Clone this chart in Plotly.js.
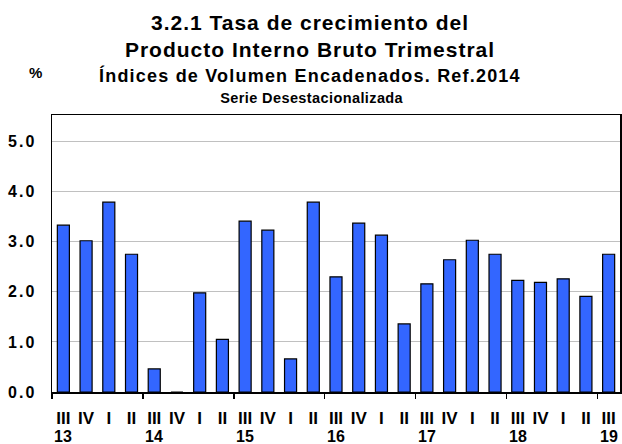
<!DOCTYPE html>
<html>
<head>
<meta charset="utf-8">
<script src="https://cdn.plot.ly/plotly-3.0.1.min.js"></script>
<style>
html, body { margin: 0; padding: 0; background: #fff; }
#chart { width: 622px; height: 444px; }
#chart .gtitle { letter-spacing: 1px; }
#chart .annotation-text.sub3 { letter-spacing: 1.2px; }
#chart .annotation-text.sub4 { letter-spacing: 0.4px; }
#chart .ytick text { letter-spacing: 2px; }
</style>
</head>
<body>
<div id="chart"></div>
<script>
// Quarters from 2013-III to 2019-III
const quarterLabels = ["III","IV","I","II","III","IV","I","II","III","IV","I","II","III","IV","I","II","III","IV","I","II","III","IV","I","II","III"];
const growthValues = [3.33, 3.02, 3.79, 2.75, 0.46, 0.0, 1.98, 1.05, 3.41, 3.23, 0.66, 3.79, 2.30, 3.37, 3.13, 1.36, 2.16, 2.64, 3.03, 2.75, 2.23, 2.19, 2.26, 1.91, 2.75];
const yearLabels = ["13","14","15","16","17","18","19"];
const yearPositions = [0, 4, 8, 12, 16, 20, 24];
const yTickValues = [0, 1, 2, 3, 4, 5];

const xIdx = quarterLabels.map((_, i) => i);
const FONT = "Arial, 'Liberation Sans', sans-serif";

const trace = {
  type: "bar",
  x: xIdx,
  y: growthValues,
  marker: { color: "#3366ff", line: { color: "#000000", width: 1.2 } },
  hoverinfo: "y"
};

const annotations = [
  { text: "<b>Índices de Volumen Encadenados. Ref.2014</b>", xref: "paper", yref: "paper",
    x: 0.4542, y: 1.144, xanchor: "center", yanchor: "middle", showarrow: false,
    font: { family: FONT, size: 18, color: "#000" } },
  { text: "<b>Serie Desestacionalizada</b>", xref: "paper", yref: "paper",
    x: 0.4577, y: 1.063, xanchor: "center", yanchor: "middle", showarrow: false,
    font: { family: FONT, size: 14.5, color: "#000" } },
  { text: "<b>%</b>", xref: "paper", yref: "paper",
    x: -0.0299, y: 1.155, xanchor: "center", yanchor: "middle", showarrow: false,
    font: { family: FONT, size: 15, color: "#000" } }
];
yearLabels.forEach((lab, i) => {
  annotations.push({ text: "<b>" + lab + "</b>", xref: "x", yref: "paper",
    x: yearPositions[i], y: -0.161, xanchor: "center", yanchor: "middle", showarrow: false,
    font: { family: FONT, size: 16, color: "#000" } });
});

const layout = {
  width: 622, height: 444,
  margin: { l: 52, r: 2, t: 115, b: 52, pad: 0 },
  paper_bgcolor: "#ffffff", plot_bgcolor: "#ffffff",
  showlegend: false,
  bargap: 0.47,
  font: { family: FONT, color: "#000" },
  title: {
    text: "<b>3.2.1 Tasa de crecimiento del<br>Producto Interno Bruto Trimestral</b>",
    xref: "container", yref: "container", x: 310/622, y: 1 - 30/444,
    xanchor: "center", yanchor: "middle",
    font: { family: FONT, size: 21, color: "#000" }
  },
  xaxis: {
    range: [-0.5, 24.5], tickmode: "array", tickvals: xIdx,
    ticktext: quarterLabels.map(q => "<b>" + q + "</b>"),
    ticks: "", showgrid: false, zeroline: false,
    showline: true, mirror: true, linecolor: "#000", linewidth: 1.5,
    tickfont: { family: FONT, size: 17, color: "#000" },
    ticklabelstandoff: 10,
    minor: { tickmode: "linear", tick0: -0.5, dtick: 4, ticks: "outside", ticklen: 5, tickwidth: 1.5, tickcolor: "#000", showgrid: false }
  },
  yaxis: {
    range: [0, 5.53], tickmode: "array", tickvals: yTickValues, tickformat: ".1f",
    ticks: "", showgrid: true, gridcolor: "#c0c0c0", gridwidth: 1, zeroline: false,
    showline: true, mirror: true, linecolor: "#000", linewidth: 1.5,
    tickfont: { family: FONT, size: 16, color: "#000", weight: "bold" },
    ticklabelstandoff: 11
  },
  annotations: annotations
};

Plotly.newPlot("chart", [trace], layout, { displayModeBar: false, staticPlot: true }).then(() => {
  const a = document.querySelectorAll("#chart .annotation-text");
  if (a[0]) a[0].classList.add("sub3");
  if (a[1]) a[1].classList.add("sub4");
});
</script>
</body>
</html>
